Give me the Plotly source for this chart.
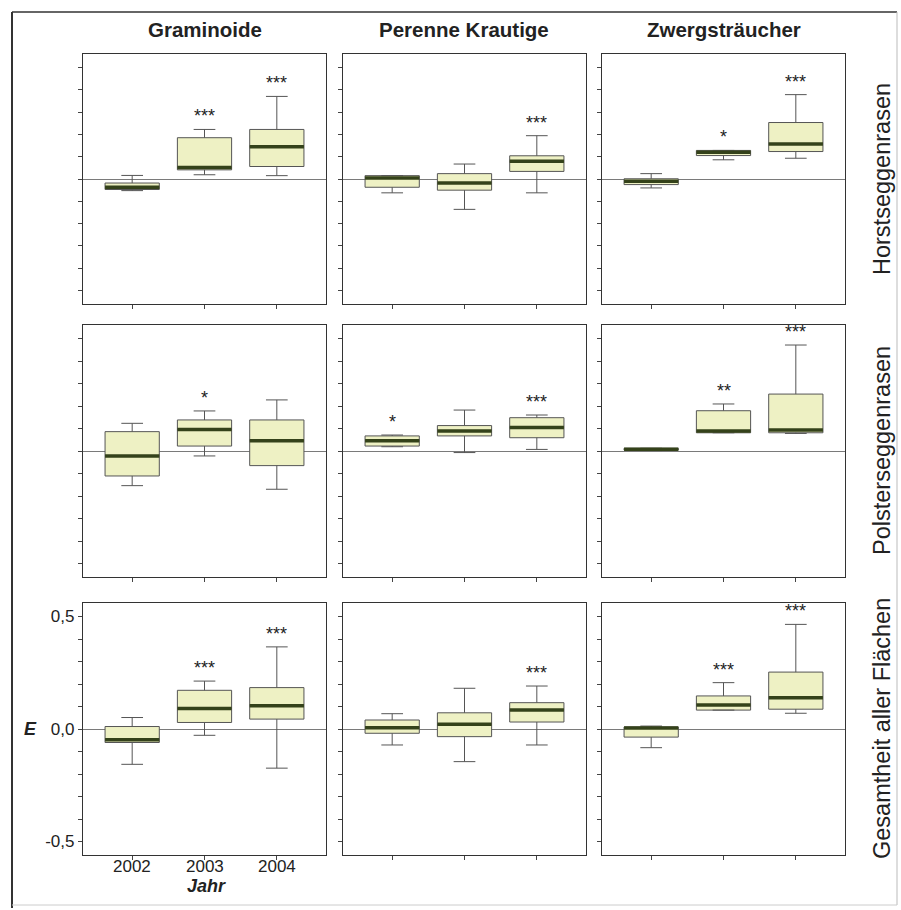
import plotly.graph_objects as go

# ---- data -------------------------------------------------------------
years = ["2002", "2003", "2004"]
groups = ["Graminoide", "Perenne Krautige", "Zwergsträucher"]
sites = ["Horstseggenrasen", "Polsterseggenrasen", "Gesamtheit aller Flächen"]

# box statistics per site: one row per group, one value per year
horst_lower = [[-0.052, 0.019, 0.015], [-0.062, -0.136, -0.062], [-0.040, 0.086, 0.093]]
horst_q1 = [[-0.047, 0.041, 0.056], [-0.037, -0.050, 0.034], [-0.025, 0.105, 0.123]]
horst_median = [[-0.037, 0.052, 0.145], [0.004, -0.018, 0.079], [-0.010, 0.120, 0.157]]
horst_q3 = [[-0.018, 0.185, 0.222], [0.015, 0.024, 0.104], [0.001, 0.128, 0.253]]
horst_upper = [[0.016, 0.222, 0.370], [0.015, 0.067, 0.194], [0.024, 0.128, 0.378]]
horst_sig = [["", "***", "***"], ["", "", "***"], ["", "*", "***"]]

polster_lower = [[-0.154, -0.022, -0.170], [0.019, -0.007, 0.007], [0.002, 0.081, 0.078]]
polster_q1 = [[-0.111, 0.022, -0.065], [0.022, 0.067, 0.059], [0.004, 0.081, 0.081]]
polster_median = [[-0.022, 0.096, 0.046], [0.046, 0.089, 0.104], [0.008, 0.089, 0.093]]
polster_q3 = [[0.086, 0.138, 0.138], [0.067, 0.113, 0.148], [0.012, 0.179, 0.253]]
polster_upper = [[0.123, 0.178, 0.227], [0.071, 0.182, 0.160], [0.012, 0.209, 0.471]]
polster_sig = [["", "*", ""], ["*", "", "***"], ["", "**", "***"]]

gesamt_lower = [[-0.157, -0.028, -0.174], [-0.071, -0.145, -0.071], [-0.083, 0.084, 0.070]]
gesamt_q1 = [[-0.060, 0.029, 0.044], [-0.019, -0.034, 0.031], [-0.036, 0.084, 0.088]]
gesamt_median = [[-0.048, 0.091, 0.103], [0.006, 0.021, 0.084], [0.004, 0.107, 0.139]]
gesamt_q3 = [[0.011, 0.172, 0.184], [0.040, 0.072, 0.117], [0.009, 0.147, 0.253]]
gesamt_upper = [[0.051, 0.213, 0.365], [0.068, 0.181, 0.191], [0.013, 0.206, 0.465]]
gesamt_sig = [["", "***", "***"], ["", "", "***"], ["", "***", "***"]]

y_tick_values = [-0.5, -0.4, -0.3, -0.2, -0.1, 0.0, 0.1, 0.2, 0.3, 0.4, 0.5]
y_tick_labels = ["-0,5", "", "", "", "", "0,0", "", "", "", "", "0,5"]

site_stats = [
    (horst_lower, horst_q1, horst_median, horst_q3, horst_upper, horst_sig),
    (polster_lower, polster_q1, polster_median, polster_q3, polster_upper, polster_sig),
    (gesamt_lower, gesamt_q1, gesamt_median, gesamt_q3, gesamt_upper, gesamt_sig),
]

# ---- layout geometry (pixels) ----------------------------------------
W, H = 901, 910
col_px = [(83, 326), (343, 586), (602, 845)]
row_px = [(54, 304), (325, 577), (603, 855)]
y_range = [-0.56, 0.56]
x_range = [-0.68, 2.68]
box_w = 0.75

FONT = "Liberation Sans, Arial, sans-serif"
INK = "#222222"
BOX_FILL = "#eef1c4"
BOX_LINE = "#555555"
MEDIAN = "#34421a"


def xd(px):
    return px / W


def yd(px):
    return 1 - px / H


fig = go.Figure()
layout = dict(
    width=W, height=H,
    margin=dict(l=0, r=0, t=0, b=0),
    paper_bgcolor="white", plot_bgcolor="white",
    showlegend=False,
    font=dict(family=FONT, color=INK),
    annotations=[], shapes=[],
)

xpos = list(range(len(years)))

for r, (lo, q1, med, q3, up, sig) in enumerate(site_stats):
    for c in range(len(groups)):
        k = r * 3 + c + 1
        xa, ya = f"x{k}", f"y{k}"
        label_panel = (r == 2 and c == 0)

        layout[f"xaxis{k}"] = dict(
            domain=[xd(col_px[c][0]), xd(col_px[c][1])],
            anchor=ya, range=x_range,
            tickvals=xpos, showticklabels=False,
            ticks="outside", ticklen=4, tickcolor="#444",
            showline=True, mirror=True, linecolor="#333", linewidth=1.3,
            showgrid=False, zeroline=False,
        )
        layout[f"yaxis{k}"] = dict(
            domain=[yd(row_px[r][1]), yd(row_px[r][0])],
            anchor=xa, range=y_range,
            tickvals=y_tick_values,
            ticktext=y_tick_labels if label_panel else [""] * len(y_tick_values),
            ticks="outside", ticklen=4, tickcolor="#444",
            showline=True, mirror=True, linecolor="#333", linewidth=1.3,
            showgrid=False,
            zeroline=True, zerolinecolor="#7a7a7a", zerolinewidth=1.2,
            tickfont=dict(size=17, color=INK, family=FONT),
        )

        fig.add_trace(go.Box(
            x=xpos, q1=q1[c], median=med[c], q3=q3[c],
            lowerfence=lo[c], upperfence=up[c],
            width=box_w, whiskerwidth=0.4,
            fillcolor=BOX_FILL, line=dict(color=BOX_LINE, width=1),
            boxpoints=False, hoverinfo="skip",
            xaxis=xa, yaxis=ya,
        ))

        # thick median bars drawn over the boxes
        mx, my = [], []
        for i, m in enumerate(med[c]):
            mx += [i - box_w / 2, i + box_w / 2, None]
            my += [m, m, None]
        fig.add_trace(go.Scatter(
            x=mx, y=my, mode="lines",
            line=dict(color=MEDIAN, width=3.5),
            hoverinfo="skip", xaxis=xa, yaxis=ya,
        ))

        # significance stars above the upper whiskers
        for i, s in enumerate(sig[c]):
            if s:
                layout["annotations"].append(dict(
                    x=i, y=up[c][i], xref=xa, yref=ya,
                    text=s, showarrow=False,
                    yanchor="bottom", yshift=1,
                    font=dict(size=18, color=INK, family=FONT),
                ))

        # year labels under the labelled panel, set close to the axis
        if label_panel:
            for i, yr in enumerate(years):
                layout["annotations"].append(dict(
                    x=i, y=yd(866), xref=xa, yref="paper",
                    text=yr, showarrow=False,
                    xanchor="center", yanchor="middle",
                    font=dict(size=17, color=INK, family=FONT),
                ))

# column headers
for c, g in enumerate(groups):
    layout["annotations"].append(dict(
        x=xd((col_px[c][0] + col_px[c][1]) / 2), y=yd(30),
        xref="paper", yref="paper", text=f"<b>{g}</b>",
        showarrow=False, xanchor="center", yanchor="middle",
        font=dict(size=20.5, color=INK, family=FONT),
    ))

# row labels on the right
for r, s in enumerate(sites):
    layout["annotations"].append(dict(
        x=xd(882), y=yd((row_px[r][0] + row_px[r][1]) / 2),
        xref="paper", yref="paper", text=s, textangle=-90,
        showarrow=False, xanchor="center", yanchor="middle",
        font=dict(size=23.5, color=INK, family=FONT),
    ))

# axis titles on the labelled panel
layout["annotations"].append(dict(
    x=xd(30), y=yd(729), xref="paper", yref="paper",
    text="<b><i>E</i></b>", showarrow=False,
    xanchor="center", yanchor="middle",
    font=dict(size=18, color=INK, family=FONT),
))
layout["annotations"].append(dict(
    x=xd(206), y=yd(886), xref="paper", yref="paper",
    text="<b><i>Jahr</i></b>", showarrow=False,
    xanchor="center", yanchor="middle",
    font=dict(size=18, color=INK, family=FONT),
))

# outer frame of the figure
layout["shapes"] += [
    dict(type="line", xref="paper", yref="paper", x0=xd(12), x1=xd(897), y0=yd(12), y1=yd(12),
         line=dict(color="#333", width=1.5)),
    dict(type="line", xref="paper", yref="paper", x0=xd(12), x1=xd(12), y0=yd(12), y1=yd(908),
         line=dict(color="#333", width=2)),
    dict(type="line", xref="paper", yref="paper", x0=xd(897), x1=xd(897), y0=yd(12), y1=yd(905),
         line=dict(color="#bbb", width=1)),
    dict(type="line", xref="paper", yref="paper", x0=xd(12), x1=xd(897), y0=yd(905), y1=yd(905),
         line=dict(color="#ccc", width=1)),
]

fig.update_layout(**layout)
fig.write_html("out.html")
